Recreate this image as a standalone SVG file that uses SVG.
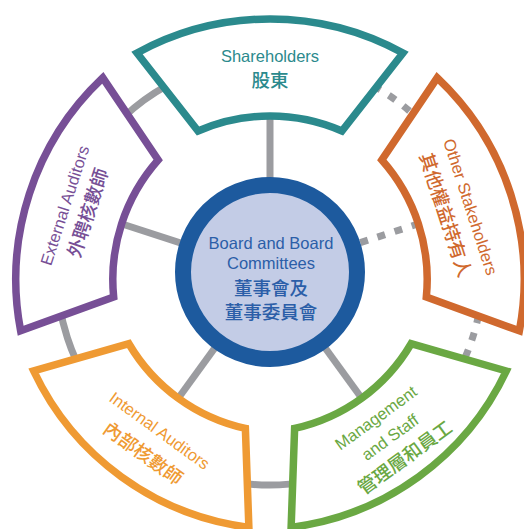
<svg xmlns="http://www.w3.org/2000/svg" width="524" height="529" viewBox="0 0 524 529">
<defs>
<style>
.ring{fill:none;stroke:#9b9ca0;stroke-width:7}
.dot{fill:none;stroke:#9b9ca0;stroke-width:7;stroke-dasharray:8 10}
.sec{fill:#fff;stroke-width:7.5;stroke-linejoin:miter}
.en{font-family:"Liberation Sans",Arial,sans-serif;font-size:16.5px;text-anchor:middle}
.zh{font-family:"Noto Sans CJK TC","Noto Sans CJK SC",sans-serif;font-size:18.5px;font-weight:500;text-anchor:middle}
</style>
<path id="sector" d="M 137 53 A 277 277 0 0 1 403 53 L 342 131 A 180 180 0 0 0 198 131 Z"/>
</defs>
<rect width="524" height="529" fill="#fff"/>
<g id="connectors">
<path class="ring" d="M 395.2 444.3 A 213 213 0 1 1 270 59"/>
<path class="dot" d="M 270 59 A 213 213 0 0 1 395.2 444.3"/>
<line class="ring" x1="270" y1="272" x2="270" y2="105"/>
<line class="ring" x1="270" y1="272" x2="108.3" y2="219.5"/>
<line class="ring" x1="270" y1="272" x2="170.1" y2="409.5"/>
<line class="ring" x1="270" y1="272" x2="369.9" y2="409.5"/>
<line class="dot" x1="360.3" y1="242.6" x2="431.7" y2="219.5"/>
</g>
<g id="shareholders">
<use href="#sector" class="sec" stroke="#2b8a8d"/>
<text class="en" x="270" y="62" fill="#2b8a8d">Shareholders</text>
<text class="zh" x="270" y="87" fill="#2b8a8d">股東</text>
</g>
<g id="other-stakeholders" transform="rotate(72 270 272)">
<use href="#sector" class="sec" stroke="#d0692e"/>
<text class="en" x="270" y="67" fill="#d0692e">Other Stakeholders</text>
<text class="zh" x="270" y="94" fill="#d0692e">其他權益持有人</text>
</g>
<g id="management-staff">
<use href="#sector" class="sec" stroke="#6aa843" transform="rotate(144 270 272)"/>
<g transform="rotate(-36 270 272)">
<text class="en" x="270" y="458" fill="#6aa843">Management</text>
<text class="en" x="270" y="482" fill="#6aa843">and Staff</text>
<text class="zh" x="270" y="508" fill="#6aa843">管理層和員工</text>
</g>
</g>
<g id="internal-auditors">
<use href="#sector" class="sec" stroke="#ef9a33" transform="rotate(216 270 272)"/>
<g transform="rotate(36 270 272)">
<text class="en" x="274" y="471" fill="#ef9a33">Internal Auditors</text>
<text class="zh" x="274" y="500" fill="#ef9a33">內部核數師</text>
</g>
</g>
<g id="external-auditors" transform="rotate(-72 270 272)">
<use href="#sector" class="sec" stroke="#774f96"/>
<text class="en" x="270" y="62" fill="#774f96">External Auditors</text>
<text class="zh" x="270" y="87" fill="#774f96">外聘核數師</text>
</g>
<g id="board">
<circle cx="270" cy="272" r="87" fill="#c3cce6" stroke="#1d5a9e" stroke-width="16"/>
<text class="en" x="271" y="249" fill="#2b5ea8">Board and Board</text>
<text class="en" x="271" y="269" fill="#2b5ea8">Committees</text>
<text class="zh" x="271" y="295" fill="#2b5ea8">董事會及</text>
<text class="zh" x="271" y="319" fill="#2b5ea8">董事委員會</text>
</g>
</svg>
